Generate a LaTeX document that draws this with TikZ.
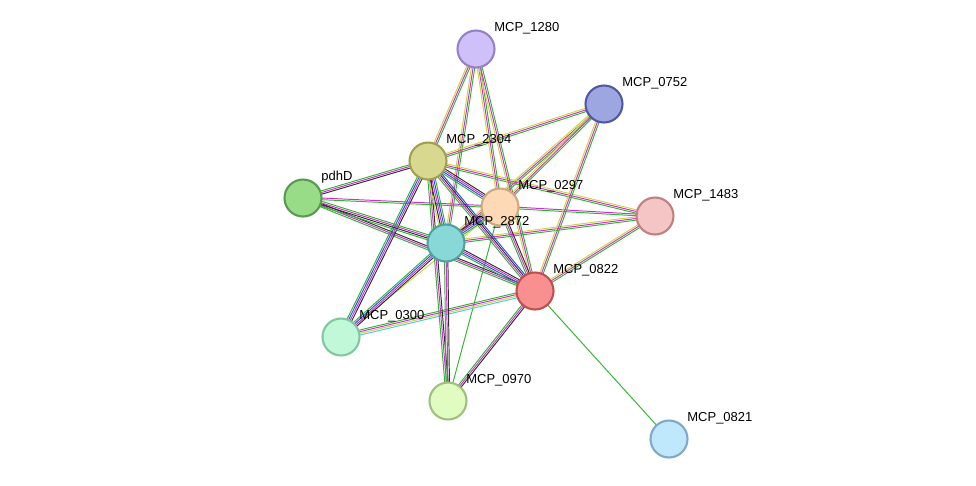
\documentclass[tikz,border=0pt]{standalone}
\usepackage{fontspec}
\setmainfont{Liberation Sans}
\usetikzlibrary{calc}
\definecolor{eg}{HTML}{33B433}
\definecolor{em}{HTML}{D030D0}
\definecolor{eb}{HTML}{3050E0}
\definecolor{ek}{HTML}{303030}
\definecolor{ey}{HTML}{C8D840}
\definecolor{ec}{HTML}{50C8E8}
\newcommand{\myedge}[3]{%
  \foreach \c [count=\i] in {#3} {\xdef\nedge{\i}}%
  \foreach \c [count=\i] in {#3} {%
    \pgfmathsetmacro{\off}{(\i-(\nedge+1)/2)*0.95}%
    \draw[\c, line width=0.55pt] ($(#1)!\off pt!90:(#2)$) -- ($(#2)!\off pt!-90:(#1)$);
  }}
\tikzset{
  prot/.style={circle, minimum size=0.74cm, inner sep=0pt, line width=1.2pt},
  lab/.style={anchor=west, font=\fontsize{7.4}{8}\selectfont, inner sep=0pt}
}
\begin{document}
\begin{tikzpicture}[x=0.02cm,y=-0.02cm]
\useasboundingbox (0,0) rectangle (976,485);
\coordinate (n1280) at (476,49);
\coordinate (n0752) at (604,104);
\coordinate (n2304) at (428,161);
\coordinate (npdhD) at (303,198);
\coordinate (n0297) at (500,207);
\coordinate (n1483) at (655,216);
\coordinate (n2872) at (446,243);
\coordinate (n0822) at (535,291);
\coordinate (n0300) at (341,337);
\coordinate (n0970) at (448,401);
\coordinate (n0821) at (669,439);
\myedge{n0297}{n0300}{ey}
\myedge{n0297}{n0970}{eg}
\myedge{n0822}{n0821}{eg}
\myedge{n2872}{n1280}{eg,em,ey}
\myedge{n2872}{n0752}{eg,em,ey}
\myedge{n2872}{n1483}{eg,em,ey}
\myedge{n2304}{n1280}{eg,em,ey}
\myedge{n2304}{n0752}{eg,em,ey}
\myedge{n2304}{n1483}{eg,em,ey}
\myedge{n0297}{n1280}{eg,em,ey}
\myedge{n0297}{n0752}{eg,em,ey}
\myedge{n0297}{n1483}{eg,em}
\myedge{n0822}{n1280}{eg,em,ey}
\myedge{n0822}{n0752}{eg,em,ey}
\myedge{n0822}{n1483}{eg,em,ey}
\myedge{n0822}{n0300}{eg,em,ey,ec}
\myedge{n0822}{n0970}{eg,em,ek}
\myedge{npdhD}{n0822}{eg,em,ek}
\myedge{npdhD}{n0297}{eg,em}
\myedge{n2304}{npdhD}{eg,em,ek}
\myedge{n2304}{n0297}{eg,eb,em,ek}
\myedge{n2304}{n0822}{eg,em,ek,eb}
\myedge{n2304}{n0300}{eg,eb,em,ek}
\myedge{n2304}{n0970}{eg,em,ek}
\myedge{n0297}{n0822}{eg,em,ek}
\myedge{n2872}{n2304}{eg,eb,em,ek,ey}
\myedge{n2872}{npdhD}{eg,em,ek,eg}
\myedge{n2872}{n0300}{eg,eb,em,ek}
\myedge{n2872}{n0970}{eg,em,ek}
\myedge{n2872}{n0822}{eg,eb,em,ek}
\myedge{n2872}{n0297}{eg,eb,em,ek}
\node[prot, fill={rgb,255:red,208;green,192;blue,250}, draw={rgb,255:red,150;green,128;blue,200}] (p1280) at (n1280) {};
\node[prot, fill={rgb,255:red,157;green,166;blue,224}, draw={rgb,255:red,80;green,90;blue,160}] (p0752) at (n0752) {};
\node[prot, fill={rgb,255:red,216;green,216;blue,144}, draw={rgb,255:red,160;green,160;blue,80}] (p2304) at (n2304) {};
\node[prot, fill={rgb,255:red,152;green,220;blue,136}, draw={rgb,255:red,90;green,154;blue,80}] (ppdhD) at (npdhD) {};
\node[prot, fill={rgb,255:red,253;green,217;blue,181}, draw={rgb,255:red,208;green,168;blue,128}] (p0297) at (n0297) {};
\node[prot, fill={rgb,255:red,245;green,197;blue,197}, draw={rgb,255:red,192;green,128;blue,128}] (p1483) at (n1483) {};
\node[prot, fill={rgb,255:red,136;green,216;blue,216}, draw={rgb,255:red,80;green,160;blue,160}] (p2872) at (n2872) {};
\node[prot, fill={rgb,255:red,249;green,144;blue,144}, draw={rgb,255:red,192;green,80;blue,80}] (p0822) at (n0822) {};
\node[prot, fill={rgb,255:red,192;green,248;blue,216}, draw={rgb,255:red,128;green,200;blue,160}] (p0300) at (n0300) {};
\node[prot, fill={rgb,255:red,224;green,252;blue,192}, draw={rgb,255:red,160;green,192;blue,128}] (p0970) at (n0970) {};
\node[prot, fill={rgb,255:red,192;green,232;blue,252}, draw={rgb,255:red,128;green,168;blue,200}] (p0821) at (n0821) {};
\node[lab] (l1280) at (494,28) {MCP\_1280};
\node[lab] (l0752) at (622,83) {MCP\_0752};
\node[lab] (l2304) at (446,140) {MCP\_2304};
\node[lab] (lpdhD) at (321,177) {pdhD};
\node[lab] (l0297) at (518,186) {MCP\_0297};
\node[lab] (l1483) at (673,195) {MCP\_1483};
\node[lab] (l2872) at (464,222) {MCP\_2872};
\node[lab] (l0822) at (553,270) {MCP\_0822};
\node[lab] (l0300) at (359,316) {MCP\_0300};
\node[lab] (l0970) at (466,380) {MCP\_0970};
\node[lab] (l0821) at (687,418) {MCP\_0821};
\end{tikzpicture}
\end{document}
